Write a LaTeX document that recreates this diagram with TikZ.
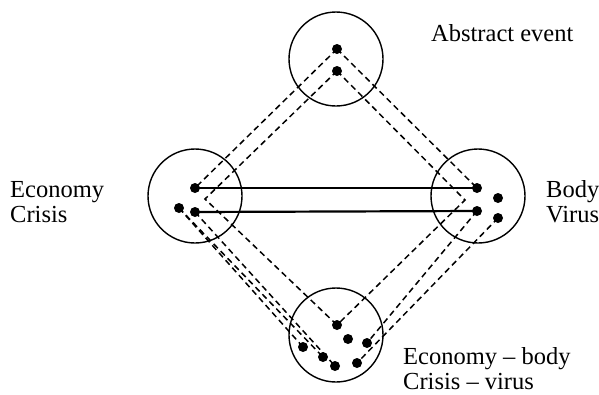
\documentclass[tikz,border=0pt]{standalone}
\usepackage{fontspec}
\setmainfont{Liberation Serif}
\usetikzlibrary{backgrounds}
\begin{document}
\begin{tikzpicture}[x=1pt,y=-1pt,
  space/.style={draw, circle, line width=1.4pt, minimum size=94pt, inner sep=0pt},
  elem/.style={fill, circle, minimum size=10pt, inner sep=0pt},
  proj/.style={dash pattern=on 6pt off 4pt, line width=1.5pt},
  link/.style={line width=2.2pt},
  lbl/.style={anchor=base west, inner sep=0pt, font=\fontsize{24.5}{25}\selectfont}
]
\useasboundingbox (0,0) rectangle (599,394);

% the four mental spaces
\node[space] (generic) at (336,59) {};
\node[space] (inA) at (195,196) {};
\node[space] (inB) at (478,196) {};
\node[space] (blend) at (336,335) {};

% elements of the generic space
\node[elem] (g1) at (337,49) {};
\node[elem] (g2) at (337,71) {};
% elements of input space A
\node[elem] (a1) at (195,188) {};
\node[elem] (a2) at (179,208) {};
\node[elem] (a3) at (195,212) {};
% elements of input space B
\node[elem] (b1) at (477,188) {};
\node[elem] (b2) at (498,198) {};
\node[elem] (b3) at (477,211) {};
\node[elem] (b4) at (498,218) {};
% elements of the blend
\node[elem] (m1) at (337,325) {};
\node[elem] (m2) at (348,339) {};
\node[elem] (m3) at (367,343) {};
\node[elem] (m4) at (303,347) {};
\node[elem] (m5) at (323,357) {};
\node[elem] (m6) at (335,366) {};
\node[elem] (m7) at (357,363) {};

% bend points of the inner projection
\coordinate (ia) at (205,199);
\coordinate (ib) at (465,200);

\begin{scope}[on background layer]
  % cross-space mappings
  \draw[link] (a1.center) -- (b1.center);
  \draw[link] (a3.center) -- (b3.center);
  % projections
  \draw[proj] (g1.center) -- (a1.center);
  \draw[proj] (g1.center) -- (b1.center);
  \draw[proj] (g2.center) -- (ia) -- (m1.center);
  \draw[proj] (g2.center) -- (ib) -- (m1.center);
  \draw[proj] (a2.center) -- (m4.center);
  \draw[proj] (a2.center) -- (m5.center);
  \draw[proj] (a3.center) -- (m6.center);
  \draw[proj] (b3.center) -- (m3.center);
  \draw[proj] (b4.center) -- (m7.center);
\end{scope}

% labels
\node[lbl] (tg) at (431,41) {Abstract event};
\node[lbl] (ta1) at (10,197) {Economy};
\node[lbl] (ta2) at (10,222) {Crisis};
\node[lbl] (tb1) at (546,197) {Body};
\node[lbl] (tb2) at (546,222) {Virus};
\node[lbl] (tm1) at (403,364) {Economy -- body};
\node[lbl, text depth=0pt] (tm2) at (403,389) {Crisis -- virus};
\end{tikzpicture}
\end{document}
